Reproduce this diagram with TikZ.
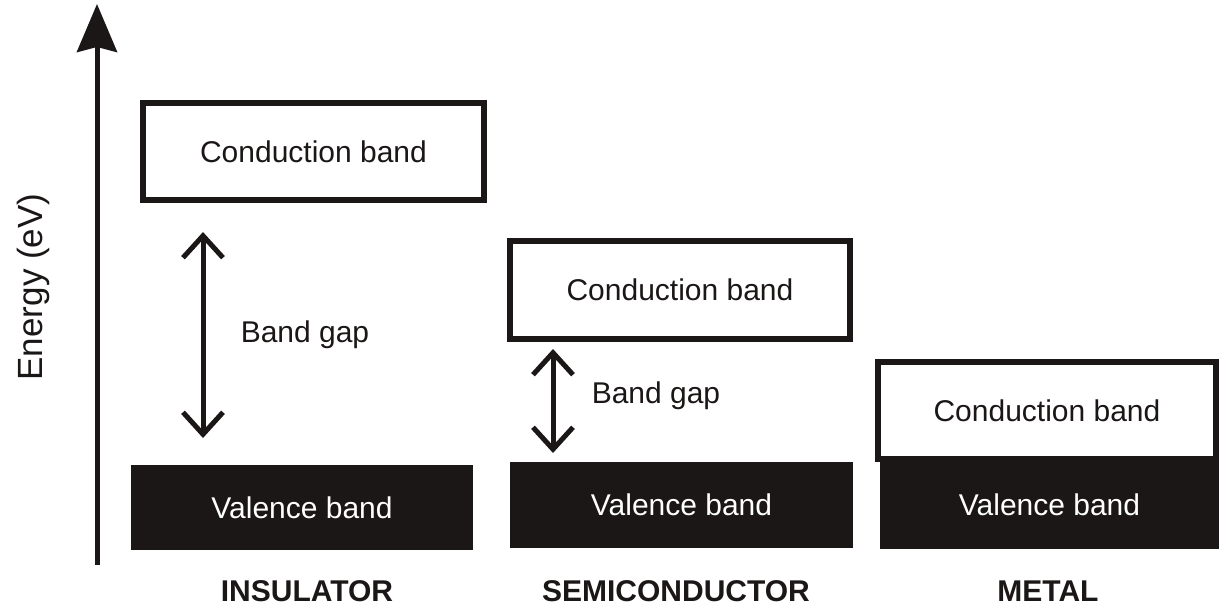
\documentclass[tikz,border=0pt]{standalone}
\usepackage{fontspec}
\setmainfont{Liberation Sans}
\usetikzlibrary{arrows.meta}
\definecolor{ink}{HTML}{1B1716}
\tikzset{
  cband/.style={draw=ink, line width=6pt, fill=white, inner sep=0pt, text=ink,
    font=\fontsize{30}{36}\selectfont},
  vband/.style={fill=ink, draw=none, inner sep=0pt, text=white,
    font=\fontsize{30}{36}\selectfont},
  gaparrow/.style={draw=ink, line width=5pt,
    {Straight Barb[length=22pt,width=40pt]}-{Straight Barb[length=22pt,width=40pt]}},
  txt/.style={text=ink, inner sep=0pt, font=\fontsize{30}{36}\selectfont},
  caption/.style={text=ink, inner sep=0pt, font=\fontsize{30}{36}\selectfont\bfseries},
}
\begin{document}
\begin{tikzpicture}[x=1pt,y=-1pt]
\useasboundingbox (0,0) rectangle (1219,608);
% energy axis
\coordinate (ax0) at (97,565);
\coordinate (ax1) at (97,4);
\draw[ink, line width=5pt, -{Stealth[length=48pt,width=40pt,inset=5pt]}] (ax0) -- (ax1);
\node[txt, rotate=90, font=\fontsize{35}{40}\selectfont] (energy) at (33,287) {Energy (eV)};

% insulator
\node[cband, minimum width=341pt, minimum height=97pt] (ic) at (313.5,151.5) {Conduction band};
\node[vband, minimum width=342pt, minimum height=85pt] (iv) at (302,507.5) {Valence band};
\coordinate (ig1) at (203,232);
\coordinate (ig2) at (203,438);
\draw[gaparrow] (ig1) -- (ig2);
\node[txt] (igt) at (305,335) {Band gap};
\node[caption] (ilab) at (307,591) {INSULATOR};

% semiconductor
\node[cband, minimum width=340pt, minimum height=98pt] (sc) at (680,290) {Conduction band};
\node[vband, minimum width=343pt, minimum height=86pt] (sv) at (681.5,505) {Valence band};
\coordinate (sg1) at (553,349);
\coordinate (sg2) at (553,453);
\draw[gaparrow] (sg1) -- (sg2);
\node[txt] (sgt) at (656,396) {Band gap};
\node[caption] (slab) at (676,591) {SEMICONDUCTOR};

% metal
\node[vband, minimum width=339pt, minimum height=89pt] (mv) at (1049.5,504.5) {Valence band};
\node[cband, minimum width=338pt, minimum height=97pt] (mc) at (1047,410.5) {Conduction band};
\node[caption] (mlab) at (1048,591) {METAL};
\end{tikzpicture}
\end{document}
